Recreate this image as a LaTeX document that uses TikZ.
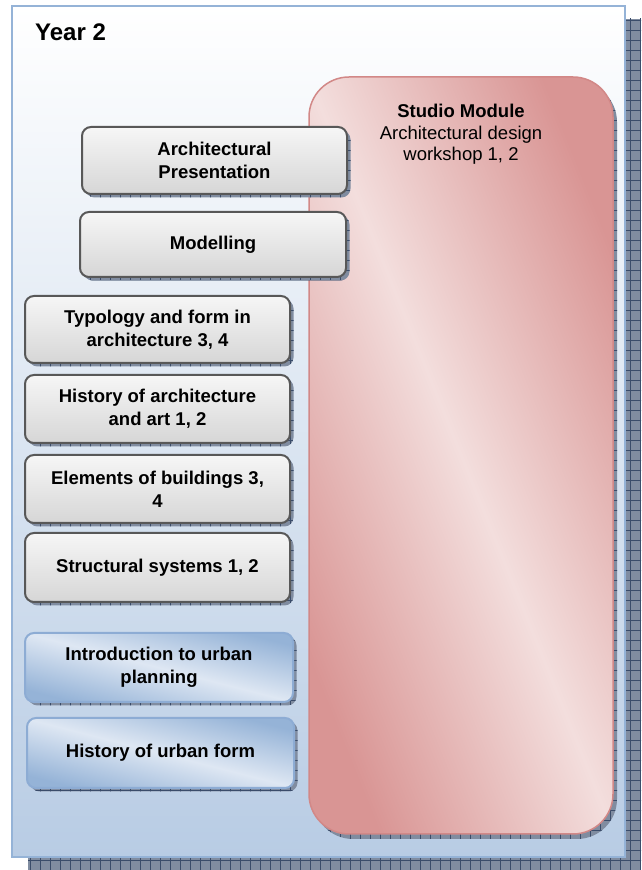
\documentclass[tikz,border=0pt]{standalone}
\usepackage{fontspec}
\setmainfont{Liberation Sans}
\usetikzlibrary{shadows,patterns.meta,positioning}

% colours of the year sheet
\definecolor{panelline}{RGB}{149,179,215}
\definecolor{panelbottom}{RGB}{184,204,228}
\definecolor{studiodark}{RGB}{217,149,148}
\definecolor{studiolight}{RGB}{243,222,221}
\definecolor{studioline}{RGB}{210,136,135}
\definecolor{graytop}{RGB}{246,246,246}
\definecolor{graybottom}{RGB}{214,214,214}
\definecolor{grayline}{RGB}{88,88,88}
\definecolor{bluedark}{RGB}{149,179,215}
\definecolor{bluelight}{RGB}{222,231,243}
\definecolor{blueline}{RGB}{141,172,212}
\definecolor{shadowfill}{RGB}{128,140,160}
\definecolor{shadowline}{RGB}{58,76,106}

\tikzset{
  % grey shadow first, then a grid on top of it
  gridshadow/.style 2 args={
      drop shadow={shadow xshift=#1,shadow yshift=-#2,opacity=1,fill=shadowfill},
      drop shadow={shadow xshift=#1,shadow yshift=-#2,opacity=1,
        pattern={Hatch[distance=10pt,line width=0.8pt]},pattern color=shadowline}},
  panelbox/.style={draw=panelline,line width=2.5pt,top color=white,bottom color=panelbottom,
      gridshadow={16pt}{13pt},inner sep=0pt},
  course/.style={draw=grayline,line width=2pt,rounded corners=9pt,
      top color=graytop,bottom color=graybottom,gridshadow={3.5pt}{3.5pt},
      align=center,font=\fontsize{18.5}{23}\selectfont\bfseries,inner sep=0pt},
  urban/.style={course,draw=blueline,top color=bluedark,bottom color=bluedark,
      middle color=bluelight,shading angle=-14.4},
  studiobox/.style={draw=studioline,line width=1.5pt,rounded corners=40pt,
      top color=studiodark,bottom color=studiodark,middle color=studiolight,shading angle=-68,
      gridshadow={4pt}{5pt},inner sep=0pt},
  studiotext/.style={align=center,font=\fontsize{18.5}{21.5}\selectfont,inner sep=0pt}
}

\begin{document}
\begin{tikzpicture}[x=1pt,y=1pt]
  \useasboundingbox (0,0) rectangle (642,870);
  % the sheet for the year
  \node[panelbox,minimum width=613pt,minimum height=851pt] (panel) at (318.5,438.5) {};
  \node[anchor=base west,inner sep=0pt,font=\fontsize{24}{28}\selectfont\bfseries] (title) at (35,829) {Year 2};
  % studio module on the right
  \node[studiobox,minimum width=304pt,minimum height=757pt] (studio) at (461,414.5) {};
  \node[studiotext,below=28pt of studio.north] (studiolabel)
    {\textbf{Studio Module}\\Architectural design\\workshop 1, 2};
  % lecture courses
  \node[course,minimum width=265pt,minimum height=67pt] (present) at (214.5,709.5) {Architectural\\Presentation};
  \node[course,minimum width=266pt,minimum height=65pt] (model) at (213,625.5) {Modelling};
  \node[course,minimum width=265pt,minimum height=67pt] (typo) at (157.5,540.5) {Typology and form in\\architecture 3, 4};
  \node[course,minimum width=265pt,minimum height=68pt] (histarch) at (157.5,461) {History of architecture\\and art 1, 2};
  \node[course,minimum width=265pt,minimum height=68pt] (elements) at (157.5,381) {Elements of buildings 3,\\4};
  \node[course,minimum width=265pt,minimum height=69pt] (struct) at (157.5,302.5) {Structural systems 1, 2};
  % urban courses
  \node[urban,minimum width=268pt,minimum height=69pt] (urbintro) at (159,202.5) {Introduction to urban\\planning};
  \node[urban,minimum width=267pt,minimum height=70pt] (urbform) at (160.5,117) {History of urban form};
\end{tikzpicture}
\end{document}
